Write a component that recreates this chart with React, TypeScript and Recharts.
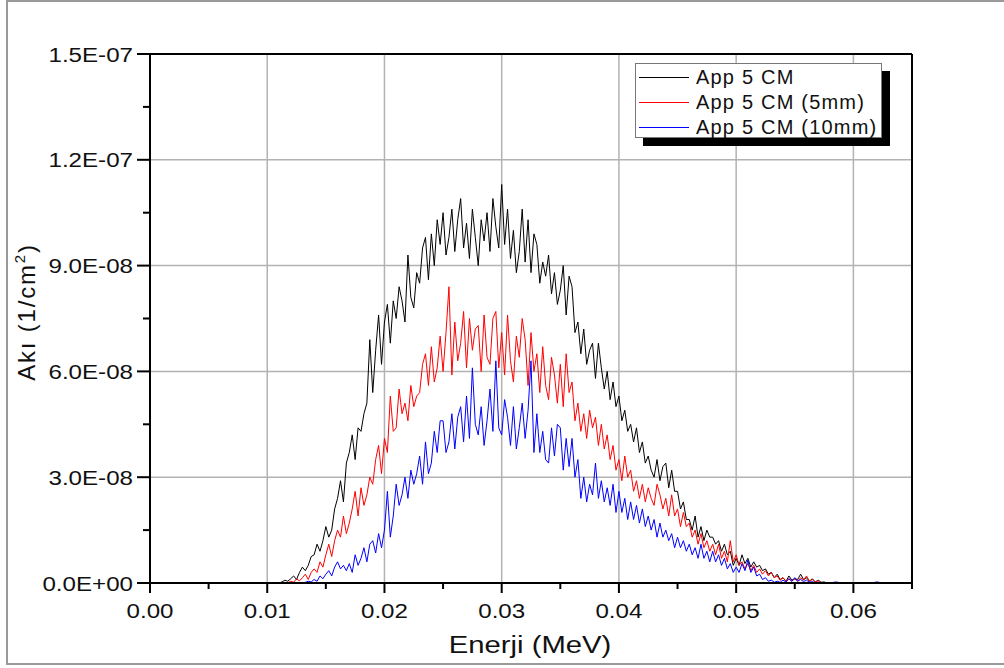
import React from "react";
import {
  LineChart,
  Line,
  XAxis,
  YAxis,
  CartesianGrid,
  ReferenceLine,
} from "recharts";

// energy grid in MeV, 0.011 .. 0.058 in 0.00025 steps
const STEP = 0.00025;
const START = 0.011;

// flux values in units of 1e-8 (1/cm^2), one row = 0.001 MeV
const APP5 = [
  0, 0.03, 0.08, 0.05,
  0.12, 0.2, 0.1, 0.3,
  0.45, 0.35, 0.5, 0.75,
  0.8, 1.1, 0.9, 1.2,
  1.6, 1.3, 1.5, 2.1,
  2.4, 2.9, 2.3, 3.4,
  3.7, 4.2, 3.5, 4.4,
  4.3, 4.8, 5.1, 6.9,
  5.4, 6.6, 7.6, 6.2,
  7.4, 7.9, 6.8, 8.0,
  7.5, 8.4, 8.0, 7.4,
  9.3, 8.1, 7.8, 8.8,
  8.5, 9.5, 9.8, 8.6,
  9.9, 9.0, 10.3, 9.6,
  10.5, 9.3, 9.8, 10.6,
  9.4, 10.3, 10.9, 9.5,
  10.2, 9.2, 10.6, 9.8,
  9.0, 10.3, 9.7, 10.5,
  9.4, 10.9, 10.1, 9.5,
  11.3, 9.6, 10.6, 9.2,
  10.0, 8.8, 9.4, 10.6,
  9.1, 10.3, 8.8, 9.9,
  9.6, 8.5, 9.1, 8.7,
  9.3, 8.2, 8.8, 7.9,
  8.3, 9.0, 7.6, 8.7,
  8.4, 7.1, 7.4, 6.5,
  7.2, 6.2, 6.6, 6.8,
  5.8, 6.8, 6.1, 5.5,
  6.0, 5.2, 5.7, 5.0,
  5.3, 4.6, 4.9, 4.3,
  4.5, 4.0, 4.4, 3.7,
  4.0, 3.4, 3.6, 3.2,
  3.0, 3.5, 2.9, 3.3,
  3.4, 2.7, 3.2, 2.6,
  2.6, 2.1, 2.3, 1.8,
  1.8, 1.5, 1.9, 1.3,
  1.6, 1.2, 1.5, 1.3,
  1.3, 1.1, 1.2, 0.9,
  1.1, 0.8, 0.9, 0.5,
  0.7, 0.5, 0.8, 0.55,
  0.7, 0.45, 0.6, 0.45,
  0.5, 0.35, 0.4, 0.25,
  0.3, 0.15, 0.25, 0.1,
  0.15, 0.05, 0.2, 0.08,
  0.12, 0.1, 0.25, 0.1,
  0.15, 0.05, 0.12, 0.03,
  0.08, 0.02, 0.03, 0,
  0,
];

const APP5_5MM = [
  0, 0, 0.02, 0,
  0.05, 0.02, 0.12, 0.06,
  0.15, 0.25, 0.1, 0.3,
  0.4, 0.3, 0.6, 0.45,
  0.8, 1.1, 0.75, 1.2,
  1.5, 1.3, 1.9, 1.4,
  1.7, 2.1, 2.6, 1.9,
  2.7, 2.2, 2.5, 3.0,
  2.8, 3.5, 3.9, 3.1,
  4.1, 3.7, 5.3, 4.3,
  4.4, 5.5, 4.8, 5.1,
  4.6, 5.6, 5.0, 5.3,
  5.4, 6.2, 6.5, 5.6,
  6.7, 5.7, 6.1, 7.0,
  6.0, 7.1, 8.4, 5.9,
  7.4, 6.3, 6.8, 7.7,
  6.1, 7.5, 6.6, 7.2,
  7.3, 6.0, 7.6, 6.4,
  6.2, 7.5, 7.7, 6.1,
  7.1, 5.9, 7.6, 6.3,
  5.7, 7.0, 6.4, 7.5,
  6.9, 5.6, 7.1, 6.0,
  6.5, 5.4, 6.7, 5.6,
  5.2, 6.4, 5.9, 5.1,
  6.2, 5.0, 6.5, 5.4,
  5.7, 4.6, 5.1, 4.3,
  4.8, 4.1, 4.9, 4.4,
  4.7, 3.9, 4.5, 3.8,
  4.2, 3.5, 3.9, 3.2,
  3.5, 2.9, 3.6, 3.0,
  3.2, 2.6, 2.9, 2.4,
  2.8, 2.3, 2.7, 2.4,
  2.2, 2.8, 2.5, 2.1,
  2.4, 1.9, 2.5, 1.9,
  2.1, 1.6, 2.0, 1.6,
  1.7, 1.3, 1.5, 1.1,
  1.4, 1.0, 1.2, 0.9,
  1.1, 0.8, 1.1, 0.7,
  0.9, 0.6, 1.2, 0.6,
  0.8, 0.5, 0.6, 0.4,
  0.55, 0.35, 0.5, 0.3,
  0.4, 0.25, 0.35, 0.2,
  0.3, 0.15, 0.2, 0.08,
  0.15, 0.05, 0.12, 0.05,
  0.12, 0.05, 0.15, 0.08,
  0.2, 0.05, 0.1, 0.03,
  0.06, 0, 0.02, 0,
  0,
];

const APP5_10MM = [
  0, 0, 0, 0,
  0, 0, 0, 0,
  0, 0.02, 0.05, 0.03,
  0.1, 0.05, 0.2, 0.12,
  0.25, 0.35, 0.2, 0.45,
  0.6, 0.4, 0.5, 0.35,
  0.55, 0.3, 0.8, 0.5,
  0.7, 1.0, 0.6, 1.1,
  1.2, 0.85, 1.4, 1.0,
  1.5, 2.6, 1.3, 1.9,
  2.8, 2.2, 2.5, 3.0,
  2.4, 3.2, 2.8, 3.1,
  3.6, 2.8, 4.0, 3.1,
  3.4, 4.3, 3.7, 4.6,
  4.6, 3.7, 4.0, 4.8,
  3.8, 4.7, 5.0, 4.0,
  5.3, 4.1, 6.1, 4.5,
  4.2, 5.0, 3.9, 4.6,
  5.5, 4.3, 6.3, 4.4,
  4.2, 5.2, 4.7, 3.9,
  5.0, 3.8, 4.4, 5.1,
  4.1, 4.9, 6.3, 3.7,
  4.8, 3.7, 4.3, 3.5,
  3.4, 4.4, 3.6, 4.5,
  4.4, 3.2, 4.1, 3.3,
  4.1, 3.0, 3.5, 2.4,
  3.0, 2.3, 2.8, 2.5,
  3.4, 2.4, 2.9, 2.3,
  2.7, 2.2, 2.8, 2.0,
  2.6, 2.0, 2.4, 1.8,
  2.3, 1.8, 2.2, 1.7,
  2.1, 1.6, 1.9, 1.5,
  1.8, 1.3, 1.7, 1.3,
  1.5, 1.2, 1.4, 1.0,
  1.3, 1.0, 1.2, 0.9,
  1.1, 0.8, 1.0, 0.7,
  1.1, 0.7, 0.9, 0.6,
  0.9, 0.6, 0.8, 0.5,
  0.7, 0.4, 0.55, 0.3,
  0.45, 0.3, 0.55, 0.35,
  0.65, 0.3, 0.45, 0.2,
  0.25, 0.1, 0.15, 0.05,
  0.08, 0.02, 0.05, 0.02,
  0.08, 0.03, 0.12, 0.05,
  0.15, 0.05, 0.1, 0.04,
  0.08, 0.02, 0.04, 0,
  0.02, 0, 0, 0,
  0,
];

// sparse tail after the spectrum (only the 10mm run has counts there)
const TAIL_E = [0.0585, 0.059, 0.0615, 0.062, 0.0625, 0.065];
const TAIL_10MM = [0.03, 0, 0, 0.03, 0, 0];

const X_TICKS = [0, 0.005, 0.01, 0.015, 0.02, 0.025, 0.03, 0.035, 0.04, 0.045, 0.05, 0.055, 0.06, 0.065];
const X_LABELS: Record<number, string> = { 0: "0.00", 2: "0.01", 4: "0.02", 6: "0.03", 8: "0.04", 10: "0.05", 12: "0.06" };
const Y_TICKS = [0, 1.5e-8, 3e-8, 4.5e-8, 6e-8, 7.5e-8, 9e-8, 1.05e-7, 1.2e-7, 1.35e-7, 1.5e-7];
const Y_LABELS: Record<number, string> = { 0: "0.0E+00", 2: "3.0E-08", 4: "6.0E-08", 6: "9.0E-08", 8: "1.2E-07", 10: "1.5E-07" };

const SERIES = [
  { key: "a", name: "App 5 CM", color: "#000000" },
  { key: "b", name: "App 5 CM (5mm)", color: "#ff0000" },
  { key: "c", name: "App 5 CM (10mm)", color: "#0000ff" },
];

const data: { e: number; a: number; b: number; c: number }[] = [{ e: 0, a: 0, b: 0, c: 0 }];
APP5.forEach((v, i) => {
  data.push({ e: START + i * STEP, a: v * 1e-8, b: APP5_5MM[i] * 1e-8, c: APP5_10MM[i] * 1e-8 });
});
TAIL_E.forEach((e, i) => data.push({ e, a: 0, b: 0, c: TAIL_10MM[i] * 1e-8 }));

const FONT = "Arial, 'Liberation Sans', Helvetica, sans-serif";

function XTick({ x, y, index }: any) {
  const major = X_LABELS[index] !== undefined;
  return (
    <g>
      <line x1={x} x2={x} y1={y} y2={y + (major ? 10 : 6)} stroke="#000" strokeWidth={2} />
      {major && (
        <text
          transform={`translate(${x},${y + 35}) scale(1.15,1)`}
          textAnchor="middle"
          fontSize={21}
          fontFamily={FONT}
          fill="#111"
        >
          {X_LABELS[index]}
        </text>
      )}
    </g>
  );
}

function YTick({ x, y, index }: any) {
  const major = Y_LABELS[index] !== undefined;
  return (
    <g>
      <line x1={x - (major ? 13 : 7)} x2={x} y1={y} y2={y} stroke="#000" strokeWidth={2} />
      {major && (
        <text
          transform={`translate(${x - 17},${y + 7.5}) scale(1.15,1)`}
          textAnchor="end"
          fontSize={21}
          fontFamily={FONT}
          fill="#111"
        >
          {Y_LABELS[index]}
        </text>
      )}
    </g>
  );
}

function LegendBox() {
  return (
    <div
      style={{
        position: "absolute",
        left: 635,
        top: 63,
        width: 245,
        height: 73,
        border: "1px solid #777",
        background: "#fff",
        boxShadow: "8px 8px 0 #000",
        fontFamily: FONT,
        fontSize: 20,
        color: "#111",
      }}
    >
      {SERIES.map((s, i) => (
        <div key={s.key} style={{ position: "absolute", left: 3, top: 1 + i * 25, height: 25, width: 240, whiteSpace: "nowrap" }}>
          <div style={{ position: "absolute", left: 0, top: 12, width: 50, height: 1, background: s.color }} />
          <span style={{ position: "absolute", left: 57, top: 0, letterSpacing: 1.2, lineHeight: "25px" }}>{s.name}</span>
        </div>
      ))}
    </div>
  );
}

export default function App() {
  return (
    <div style={{ position: "absolute", left: 0, top: 0, width: 1004, height: 668, background: "#fff", overflow: "hidden" }}>
      <div
        style={{
          position: "absolute",
          left: 6,
          top: 0,
          width: 1010,
          height: 661,
          borderLeft: "2px solid #9a9a9a",
          borderTop: "2px solid #9a9a9a",
          borderBottom: "2px solid #9a9a9a",
        }}
      />
      <LineChart
        width={1004}
        height={668}
        data={data}
        margin={{ top: 54, right: 92, bottom: 0, left: 0 }}
        style={{ position: "absolute", left: 0, top: 0 }}
      >
        <CartesianGrid
          stroke="#b2b2b2"
          strokeWidth={1.5}
          verticalValues={[0.01, 0.02, 0.03, 0.04, 0.05, 0.06]}
          horizontalValues={[3e-8, 6e-8, 9e-8, 1.2e-7]}
        />
        <XAxis
          dataKey="e"
          type="number"
          domain={[0, 0.065]}
          ticks={X_TICKS}
          interval={0}
          height={85}
          tickSize={0}
          tickMargin={0}
          tickLine={false}
          axisLine={{ stroke: "#000", strokeWidth: 2 }}
          tick={<XTick />}
          allowDataOverflow
        />
        <YAxis
          type="number"
          domain={[0, 1.5e-7]}
          ticks={Y_TICKS}
          interval={0}
          width={150}
          tickSize={0}
          tickMargin={0}
          tickLine={false}
          axisLine={{ stroke: "#000", strokeWidth: 2 }}
          tick={<YTick />}
          allowDataOverflow
        />
        <ReferenceLine y={1.5e-7} stroke="#000" strokeWidth={2} />
        <ReferenceLine x={0.065} stroke="#000" strokeWidth={2} />
        {SERIES.map((s) => (
          <Line
            key={s.key}
            type="linear"
            dataKey={s.key}
            name={s.name}
            stroke={s.color}
            strokeWidth={1}
            dot={false}
            isAnimationActive={false}
          />
        ))}
        <text
          transform="translate(530,653) scale(1.22,1)"
          textAnchor="middle"
          fontSize={24}
          fontFamily={FONT}
          fill="#111"
        >
          Enerji (MeV)
        </text>
        <text
          transform="translate(35,312) rotate(-90)"
          textAnchor="middle"
          fontSize={24}
          fontFamily={FONT}
          fill="#111"
          letterSpacing={1.8}
        >
          Akı (1/cm
          <tspan dy={-10} fontSize={15}>2</tspan>
          <tspan dy={10}>)</tspan>
        </text>
      </LineChart>
      <LegendBox />
    </div>
  );
}
